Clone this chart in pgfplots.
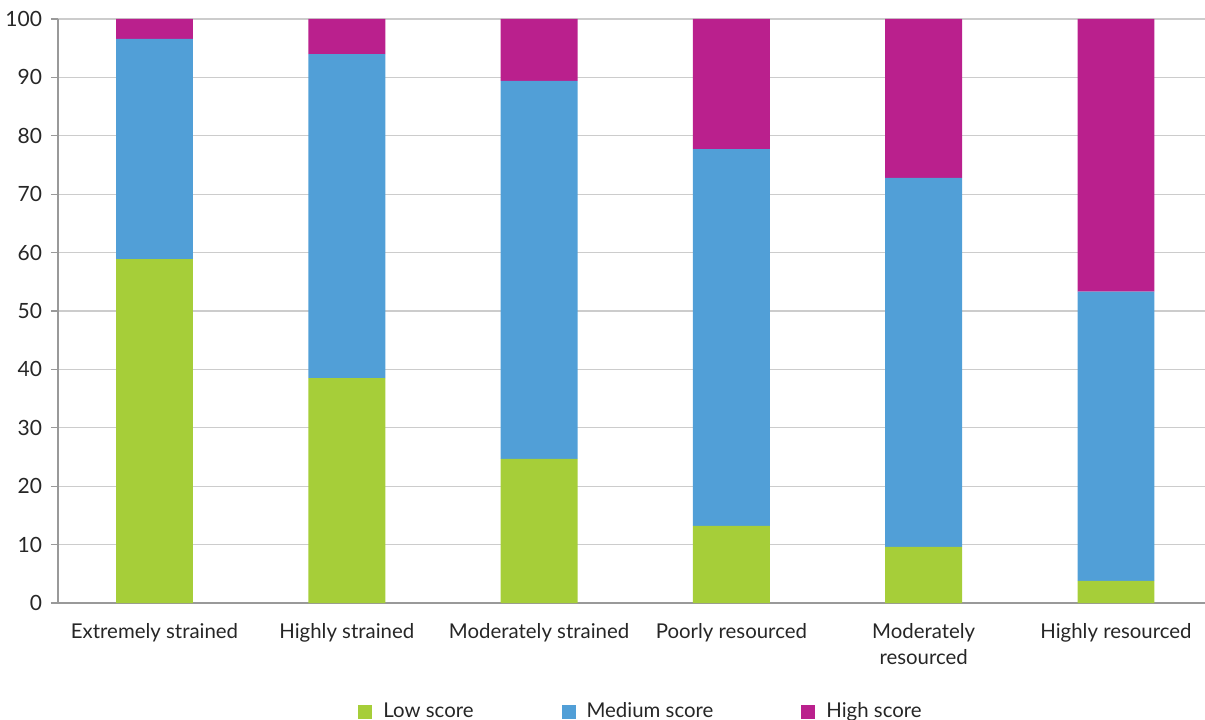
\documentclass[border=0pt]{standalone}
\usepackage{pgfplots}
\pgfplotsset{compat=1.18}
\usepackage{fontspec}
\setmainfont{Lato}
\definecolor{cLow}{HTML}{A6CE39}
\definecolor{cMed}{HTML}{519FD7}
\definecolor{cHigh}{HTML}{BA208D}
\definecolor{gridc}{HTML}{CCCCCC}
\definecolor{axc}{HTML}{999999}
\begin{document}
\begin{tikzpicture}
\begin{axis}[
  scale only axis,
  width=573.5pt, height=292pt,
  ybar stacked,
  bar width=0.4,
  ymin=0, ymax=100,
  xmin=-0.502, xmax=5.463,
  ytick={0,10,...,100},
  xtick={0,1,2,3,4,5},
  xticklabels={Extremely strained,Highly strained,Moderately strained,Poorly resourced,{Moderately\\resourced},Highly resourced},
  xticklabel style={align=center, font=\fontsize{10.2}{13}\selectfont, text=black!85, yshift=-3pt},
  yticklabel style={font=\fontsize{10.5}{12}\selectfont, text=black!85, xshift=-1pt},
  /pgf/number format/assume math mode=true,
  major x tick style={draw=none},
  major y tick style={draw=axc, line width=0.6pt},
  tick align=outside,
  major tick length=3.5pt,
  ymajorgrids,
  grid style={draw=gridc, line width=0.6pt},
  axis x line*=bottom,
  axis y line*=left,
  axis line style={draw=axc, line width=0.8pt, -},
  separate axis lines,
  x axis line style={draw=axc},
  legend columns=3,
  legend style={draw=none, fill=none, inner sep=0pt, at={(0.2616,-0.186)}, anchor=west,
    font=\fontsize{10.2}{12}\selectfont, text=black!85,
    /tikz/every even column/.append style={column sep=42pt},
    /tikz/every odd column/.append style={column sep=3.5pt}},
  legend image code/.code={\fill[#1] (0pt,-3.5pt) rectangle (7pt,3.5pt);},
]
\addplot[fill=cLow, draw=none] coordinates {(0,58.9) (1,38.5) (2,24.7) (3,13.2) (4,9.6) (5,3.8)};
\addplot[fill=cMed, draw=none] coordinates {(0,37.7) (1,55.5) (2,64.7) (3,64.5) (4,63.2) (5,49.5)};
\addplot[fill=cHigh, draw=none] coordinates {(0,3.4) (1,6.0) (2,10.6) (3,22.3) (4,27.2) (5,46.7)};
\legend{Low score,Medium score,High score}
\end{axis}
\pgfresetboundingbox
\path[use as bounding box] ([xshift=-29pt,yshift=-58pt]current axis.south west) rectangle ([yshift=9.5pt]current axis.north east);
\end{tikzpicture}
\end{document}
